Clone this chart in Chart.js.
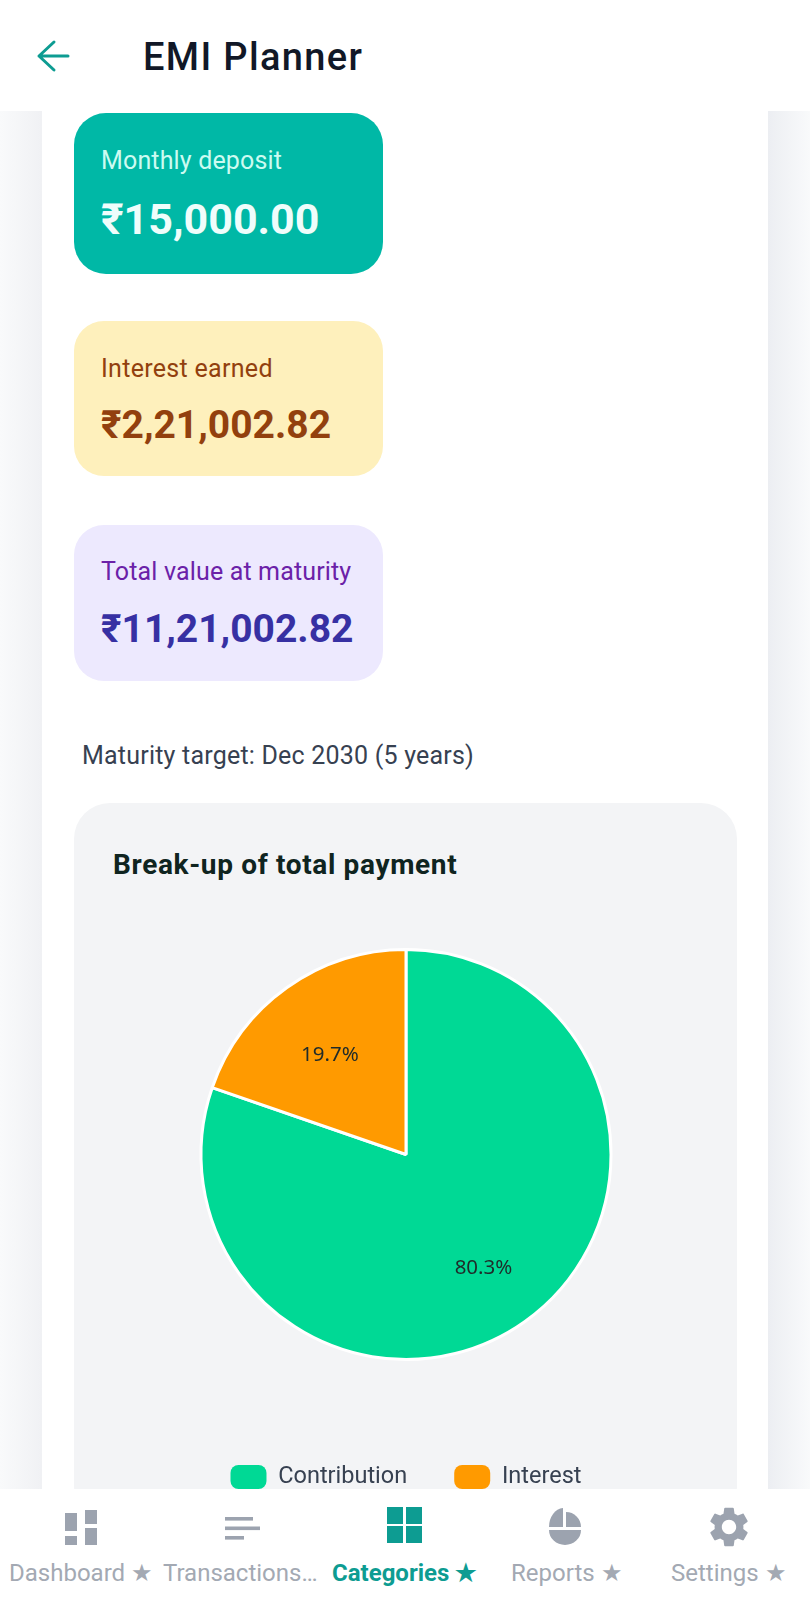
<!DOCTYPE html>
<html>
<head>
<meta charset="utf-8">
<title>EMI Planner</title>
<script src="https://cdn.jsdelivr.net/npm/chart.js@4"></script>
<style>
html, body { margin: 0; padding: 0; background: #fff; }
body { position: relative; width: 810px; height: 1600px; overflow: hidden; font-family: Roboto, sans-serif; }
.abs, .card, .text { position: absolute; }
.text { white-space: nowrap; line-height: 1; }
.gutter { position: absolute; top: 111px; height: 1378px; width: 42px; }
.card { left: 74px; width: 309px; }
.nav { position: absolute; left: 0; top: 1489px; width: 810px; height: 111px; background: #fff; z-index: 5; }
.nav .text { top: 72px; font-size: 24px; color: #a3a9b3; }
svg { position: absolute; }
</style>
</head>
<body>
<div class="gutter" style="left:0;background:linear-gradient(90deg,#f9fafb,#f0f1f4)"></div>
<div class="gutter" style="left:768px;background:linear-gradient(90deg,#eceef2,#f9fafb)"></div>

<svg style="left:36px;top:38px" width="36" height="36" viewBox="0 0 36 36" fill="none" stroke="#0d9c92" stroke-width="3" stroke-linecap="round" stroke-linejoin="round">
  <path d="M32 18H3M18 4L3 18L18 32"/>
</svg>
<div class="text" style="left:143px;top:38px;font-size:38px;font-weight:500;color:#111827;letter-spacing:1.35px">EMI Planner</div>

<div class="card" style="top:113px;height:161px;background:#00b8a6;border-radius:32px"></div>
<div class="text" style="left:101px;top:148px;font-size:25px;color:#ccfbf1;letter-spacing:.15px">Monthly deposit</div>
<div class="text" style="left:101px;top:198px;font-size:43px;font-weight:700;color:#effdfb">₹15,000.00</div>

<div class="card" style="top:321px;height:155px;background:#fef0bc;border-radius:30px"></div>
<div class="text" style="left:101px;top:356px;font-size:25px;color:#92400e;letter-spacing:.3px">Interest earned</div>
<div class="text" style="left:101px;top:406px;font-size:39px;font-weight:700;color:#92400e">₹2,21,002.82</div>

<div class="card" style="top:525px;height:156px;background:#ede9fe;border-radius:30px"></div>
<div class="text" style="left:101px;top:559px;font-size:25px;color:#6b21a8;letter-spacing:.15px">Total value at maturity</div>
<div class="text" style="left:101px;top:610px;font-size:39px;font-weight:700;color:#3730a3">₹11,21,002.82</div>

<div class="text" style="left:82px;top:743px;font-size:25px;color:#374151;letter-spacing:.21px">Maturity target: Dec 2030 (5 years)</div>

<div class="abs" style="left:74px;top:803px;width:663px;height:720px;background:#f3f4f6;border-radius:36px"></div>
<div class="text" style="left:113px;top:851px;font-size:28px;font-weight:700;color:#0f2420;letter-spacing:.65px">Break-up of total payment</div>

<div class="abs" style="left:74px;top:891px;width:664px;height:608px">
  <canvas id="chart"></canvas>
</div>

<div class="nav">
  <svg style="left:65px;top:21px" width="32" height="35" viewBox="0 0 32 35" fill="#9ca3af">
    <rect x="0" y="3" width="12" height="18"/><rect x="0" y="26" width="12" height="9"/>
    <rect x="20" y="0" width="12" height="14"/><rect x="20" y="18" width="12" height="17"/>
  </svg>
  <svg style="left:225px;top:28px" width="35" height="23" viewBox="0 0 35 23" fill="#9ca3af">
    <rect x="0" y="0" width="28" height="3.6"/><rect x="0" y="9.5" width="35" height="3.6"/><rect x="0" y="19" width="19" height="3.6"/>
  </svg>
  <svg style="left:387px;top:18px" width="35" height="36" viewBox="0 0 35 36" fill="#0d9c92">
    <rect x="0" y="0" width="16" height="17"/><rect x="19" y="0" width="16" height="17"/>
    <rect x="0" y="19" width="16" height="17"/><rect x="19" y="19" width="16" height="17"/>
  </svg>
  <svg style="left:549px;top:19px" width="32" height="37" viewBox="0 0 32 37" fill="#9ca3af">
    <path d="M14 0V19H0A15 19 0 0 1 14 0Z"/><path d="M17 4A15 15 0 0 1 32 19H17Z"/><path d="M0 22H32A16 15 0 0 1 0 22Z"/>
  </svg>
  <svg style="left:705px;top:14px" width="48" height="48" viewBox="0 0 24 24" fill="#9ca3af">
    <path d="M19.14 12.94c.04-.3.06-.61.06-.94 0-.32-.02-.64-.07-.94l2.03-1.58c.18-.14.23-.41.12-.61l-1.92-3.32c-.12-.22-.37-.29-.59-.22l-2.39.96c-.5-.38-1.03-.7-1.62-.94l-.36-2.54c-.04-.24-.24-.41-.48-.41h-3.84c-.24 0-.43.17-.47.41l-.36 2.54c-.59.24-1.13.57-1.62.94l-2.39-.96c-.22-.08-.47 0-.59.22L2.74 8.87c-.12.21-.08.47.12.61l2.03 1.58c-.05.3-.09.63-.09.94s.02.64.07.94l-2.03 1.58c-.18.14-.23.41-.12.61l1.92 3.32c.12.22.37.29.59.22l2.39-.96c.5.38 1.03.7 1.62.94l.36 2.54c.05.24.24.41.48.41h3.84c.24 0 .44-.17.47-.41l.36-2.54c.59-.24 1.13-.56 1.62-.94l2.39.96c.22.08.47 0 .59-.22l1.92-3.32c.12-.22.07-.47-.12-.61l-2.01-1.58zM12 15.6c-1.98 0-3.6-1.62-3.6-3.6s1.62-3.6 3.6-3.6 3.6 1.62 3.6 3.6-1.62 3.6-3.6 3.6z"/>
  </svg>
  <div class="text" style="left:9px">Dashboard ★</div>
  <div class="text" style="left:163px">Transactions…</div>
  <div class="text" style="left:332px;font-weight:700;color:#0d9c92">Categories ★</div>
  <div class="text" style="left:511px">Reports ★</div>
  <div class="text" style="left:671px">Settings ★</div>
</div>

<script>
const categories = ['Contribution', 'Interest'];
const amounts = [900000, 221002.82];
const sliceColors = ['#00d995', '#ff9a00'];

// where each percent label sits: share of the radius, and a small turn in radians
const labelRadius = [0.67, 0.61];
const labelTurn = [0.02, -0.035];

const percentLabels = {
    id: 'percentLabels',
    afterDatasetsDraw(chart) {
        const ctx = chart.ctx;
        const total = amounts.reduce((a, b) => a + b, 0);
        ctx.save();
        ctx.font = '20.5px "Noto Sans", sans-serif';
        ctx.fillStyle = '#1f2b2a';
        ctx.textAlign = 'center';
        ctx.textBaseline = 'middle';
        chart.getDatasetMeta(0).data.forEach(function (arc, i) {
            const mid = (arc.startAngle + arc.endAngle) / 2 + labelTurn[i];
            const r = arc.outerRadius * labelRadius[i];
            const text = (amounts[i] / total * 100).toFixed(1) + '%';
            ctx.fillText(text, arc.x + Math.cos(mid) * r, arc.y + Math.sin(mid) * r);
        });
        ctx.restore();
    }
};

new Chart(document.getElementById('chart').getContext('2d'), {
    type: 'pie',
    data: {
        labels: categories,
        datasets: [{
            data: amounts,
            backgroundColor: sliceColors,
            borderColor: '#ffffff',
            borderWidth: 3,
            radius: 205
        }]
    },
    options: {
        responsive: true,
        maintainAspectRatio: false,
        animation: false,
        plugins: {
            tooltip: { enabled: false },
            legend: {
                position: 'bottom',
                labels: {
                    boxWidth: 36,
                    boxHeight: 24,
                    useBorderRadius: true,
                    borderRadius: 8,
                    padding: 47,
                    color: '#374151',
                    font: { family: 'Roboto', size: 23.5 },
                    generateLabels(chart) {
                        // swatches have no white outline in the app
                        return Chart.overrides.pie.plugins.legend.labels.generateLabels(chart).map(function (item) {
                            item.lineWidth = 0;
                            return item;
                        });
                    }
                }
            }
        }
    },
    plugins: [percentLabels]
});
</script>
</body>
</html>
